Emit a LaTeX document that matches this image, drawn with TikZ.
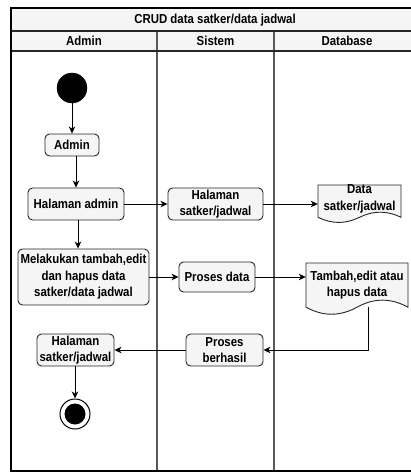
\documentclass[tikz,border=0pt]{standalone}
\usepackage{fontspec}
\setmainfont[FakeStretch=0.88]{Liberation Sans}
\usetikzlibrary{arrows.meta,calc}
\definecolor{boxfill}{HTML}{F5F5F5}
\definecolor{hdrfill}{HTML}{F5F5F5}
\newcommand{\docshape}[5]{% x1,y1,x2,y2,name
  \pgfmathsetmacro\dw{#3-#1}\pgfmathsetmacro\dh{#4-#2}
  \pgfmathsetmacro\ddy{0.3*\dh}
  \pgfmathsetmacro\ys{#4-\ddy/2}
  \pgfmathsetmacro\xm{#1+\dw/2}
  \draw[docline] (#1,#2) -- (#3,#2) -- (#3,\ys)
    .. controls ({#3-\dw/6},{\ys-0.6*\ddy}) and ({\xm+\dw/6},{\ys-0.6*\ddy}) .. (\xm,\ys)
    .. controls ({\xm-\dw/6},{\ys+0.6*\ddy}) and ({#1+\dw/6},{\ys+0.6*\ddy}) .. (#1,\ys) -- cycle;
}
\tikzset{
  txt/.style={font=\bfseries\fontsize{13}{16.5}\selectfont, align=center},
  act/.style={txt, draw=black!85, fill=boxfill, rounded corners=4.5pt, line width=0.9pt, inner sep=0pt},
  docline/.style={draw=black!85, fill=boxfill, line width=0.9pt},
  flow/.style={draw=black, line width=0.9pt, -{Stealth[length=7pt,width=6.5pt,inset=2pt]}},
  lane/.style={draw=black!65, line width=1.2pt},
  sep/.style={draw=black!85, line width=1.2pt}
}
\begin{document}
\begin{tikzpicture}[x=1pt,y=-1pt]
\useasboundingbox (0,0) rectangle (411,473);
\clip (0,0) rectangle (411,473);
% frame
\fill[hdrfill] (11,8) rectangle (420,51);
\draw[lane] (157,31) -- (157,471);
\draw[lane] (274,31) -- (274,471);
\draw[sep] (11,31) -- (420,31);
\draw[sep] (11,51) -- (420,51);
\draw[line width=2pt] (11,8) rectangle (420,471);
\node[txt] (title) at (215,20) {CRUD data satker/data jadwal};
\node[txt] (hAdmin) at (84,41) {Admin};
\node[txt] (hSistem) at (215.5,41) {Sistem};
\node[txt] (hDb) at (347,41) {Database};
% nodes
\node[circle, fill=black, draw=black, minimum size=30pt, inner sep=0pt] (start) at (72,88) {};
\node[act, minimum width=54pt, minimum height=22pt] (admin) at (72,145) {Admin};
\node[act, minimum width=96pt, minimum height=32pt] (hadmin) at (76,204) {Halaman admin};
\node[act, minimum width=95pt, minimum height=32pt] (hsys) at (215.5,204) {Halaman\\satker/jadwal};
\docshape{318}{185}{401}{223}{datadoc}
\node[txt, minimum width=83pt, inner sep=0pt] (datadoc) at (359.5,199) {Data\\satker/jadwal};
\node[act, minimum width=131pt, minimum height=56pt] (melakukan) at (83.5,277) {Melakukan tambah,edit\\dan hapus data\\satker/data jadwal};
\node[act, minimum width=76pt, minimum height=30pt] (proses) at (217,277) {Proses data};
\docshape{306}{263}{408}{315}{tambah}
\node[txt, minimum width=102pt, inner sep=0pt] (tambah) at (357,285) {Tambah,edit atau\\hapus data};
\node[act, minimum width=77pt, minimum height=32pt] (berhasil) at (224.5,350) {Proses\\berhasil};
\node[act, minimum width=77pt, minimum height=32pt] (hsat) at (75.5,350) {Halaman\\satker/jadwal};
\node[circle, draw=black, fill=white, line width=1pt, minimum size=30pt, inner sep=0pt] (end) at (75,414) {};
\node[circle, fill=black, minimum size=21pt, inner sep=0pt] (endin) at (end.center) {};
\coordinate (tb) at (368,307);
% connectors
\draw[flow] (start) -- (admin);
\draw[flow] (admin.south -| hadmin.north) -- (hadmin.north);
\coordinate (hm) at (78,220);
\draw[flow] (hadmin.south -| hm) -- (hm |- melakukan.north);
\draw[flow] (hadmin.east) -- (hsys.west);
\draw[flow] (hsys.east) -- (hsys.east -| datadoc.west);
\draw[flow] (melakukan.east |- proses.west) -- (proses.west);
\draw[flow] (proses.east) -- (proses.east -| tambah.west);
\draw[flow] (tb) -- (tb |- berhasil.east) -- (berhasil.east);
\draw[flow] (berhasil.west) -- (hsat.east);
\draw[flow] (hsat.south -| end.north) -- (end.north);
\end{tikzpicture}
\end{document}
